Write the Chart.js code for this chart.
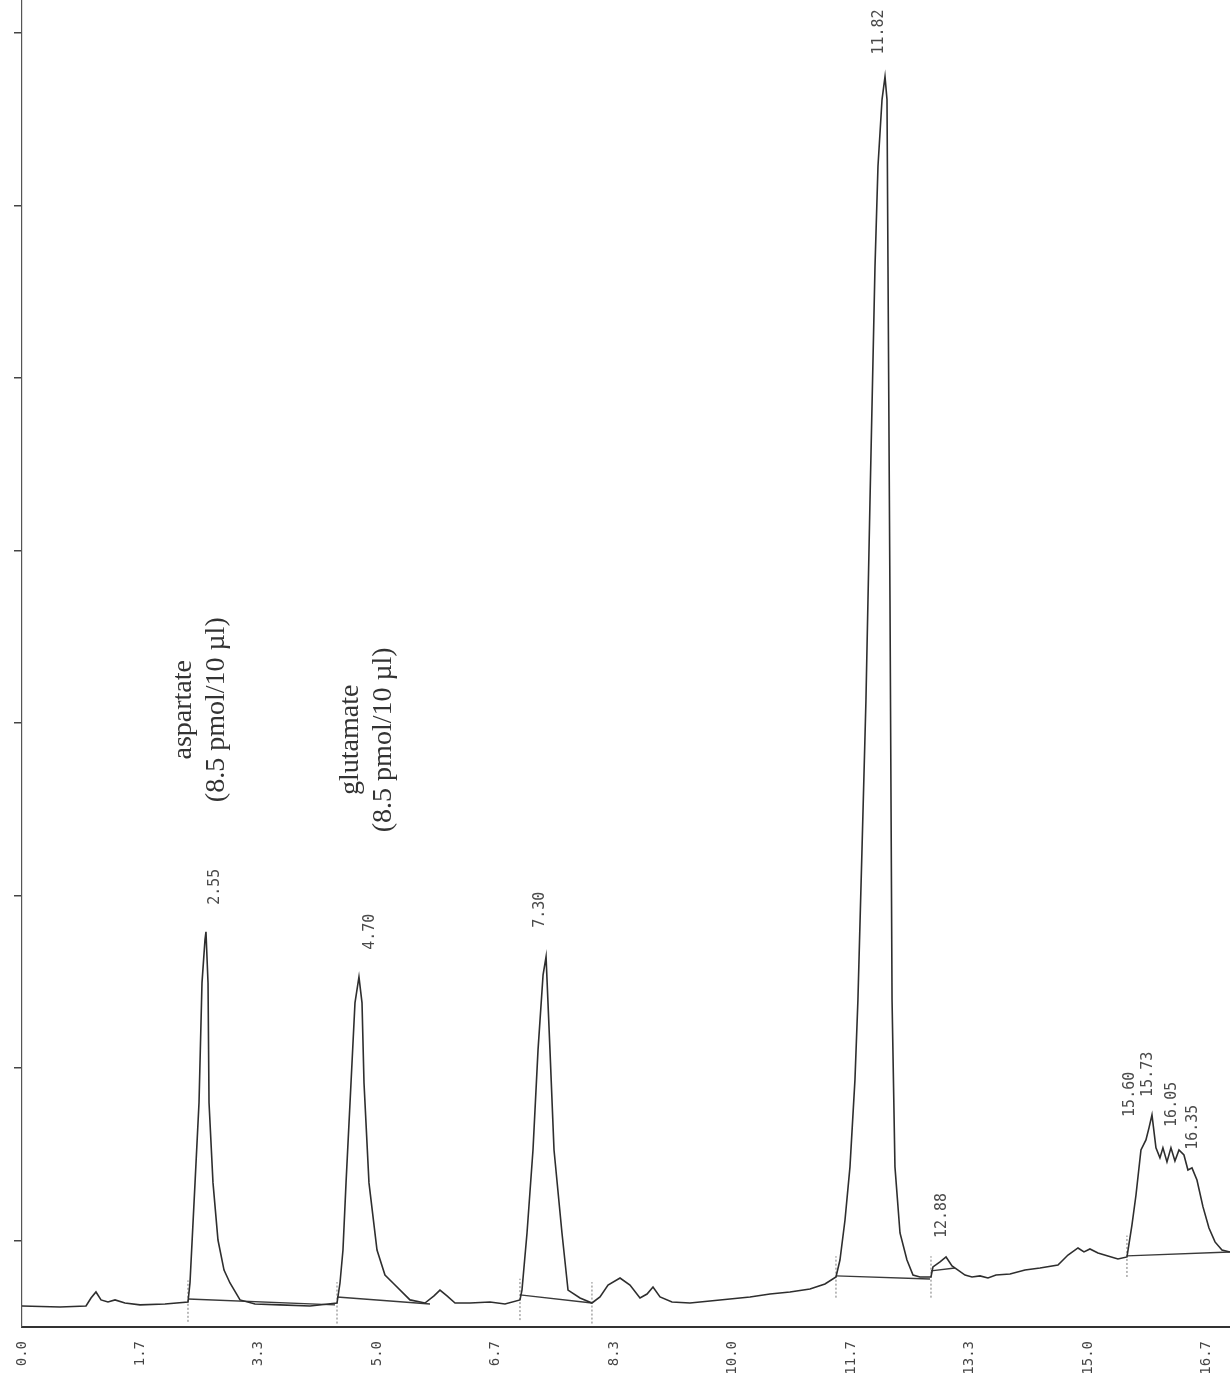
<!DOCTYPE html>
<html><head><meta charset="utf-8">
<script src="https://cdn.jsdelivr.net/npm/chart.js@4.4.1/dist/chart.umd.min.js"></script>
<style>html,body{margin:0;padding:0;background:#fff;}#wrap{width:1230px;height:1391px;position:relative;}</style>
</head><body><div id="wrap"><canvas id="c"></canvas></div>
<script>
// retention time (min) and detector signal (arbitrary units)
const traceTimes = [0.000,0.535,0.901,0.971,1.041,1.112,1.210,1.309,1.449,1.661,2.012,2.336,2.364,2.435,2.491,2.533,2.575,2.589,2.618,2.632,2.688,2.758,2.843,2.927,3.068,3.279,3.631,4.053,4.433,4.475,4.517,4.560,4.630,4.686,4.742,4.785,4.813,4.883,4.996,5.108,5.221,5.460,5.671,5.798,5.882,5.981,6.094,6.305,6.586,6.797,7.008,7.036,7.107,7.191,7.262,7.333,7.375,7.430,7.487,7.599,7.684,7.853,8.021,8.134,8.247,8.416,8.556,8.697,8.796,8.880,8.979,9.147,9.400,9.682,9.963,10.245,10.526,10.807,11.089,11.300,11.455,11.511,11.582,11.652,11.722,11.764,11.821,11.877,11.934,12.004,12.046,12.103,12.145,12.173,12.187,12.215,12.244,12.285,12.356,12.454,12.539,12.637,12.792,12.820,12.919,13.004,13.088,13.173,13.271,13.369,13.482,13.594,13.707,13.904,14.115,14.326,14.579,14.720,14.861,14.945,15.029,15.142,15.282,15.423,15.550,15.620,15.677,15.747,15.817,15.860,15.902,15.958,16.014,16.056,16.113,16.169,16.225,16.282,16.352,16.408,16.465,16.535,16.620,16.704,16.789,16.887,16.999];
const traceSignal = [0.122,0.116,0.122,0.168,0.203,0.157,0.145,0.157,0.139,0.128,0.133,0.145,0.255,0.835,1.299,1.994,2.243,2.290,1.994,1.299,0.835,0.504,0.330,0.255,0.157,0.133,0.128,0.122,0.139,0.255,0.446,0.835,1.414,1.878,2.029,1.878,1.414,0.835,0.446,0.301,0.255,0.157,0.139,0.180,0.214,0.180,0.139,0.139,0.145,0.133,0.157,0.214,0.545,1.026,1.606,2.041,2.145,1.606,1.026,0.545,0.214,0.168,0.139,0.174,0.243,0.284,0.243,0.168,0.191,0.232,0.174,0.145,0.139,0.151,0.162,0.174,0.191,0.203,0.220,0.249,0.290,0.388,0.620,0.928,1.432,1.896,2.765,3.635,4.794,6.145,6.725,7.113,7.246,7.113,6.145,4.214,1.896,0.928,0.545,0.388,0.301,0.290,0.290,0.348,0.377,0.406,0.354,0.330,0.301,0.290,0.296,0.284,0.301,0.307,0.330,0.342,0.359,0.417,0.458,0.435,0.452,0.429,0.412,0.394,0.406,0.591,0.765,1.026,1.084,1.154,1.229,1.038,0.980,1.038,0.957,1.038,0.962,1.026,0.997,0.910,0.922,0.852,0.696,0.574,0.493,0.446,0.435];

// integration baselines (start/end pairs)
const baselineStartTimes = [2.336,4.433,7.008,11.455,12.792,15.550];
const baselineStartSignal = [0.162,0.174,0.186,0.296,0.325,0.412];
const baselineEndTimes = [4.405,5.742,8.021,12.778,13.130,16.999];
const baselineEndSignal = [0.128,0.133,0.139,0.278,0.342,0.435];

// peak boundary markers
const markerTimes = [2.336,4.433,7.008,8.021,11.455,12.792,15.550];
const markerLevels = [0.15,0.14,0.16,0.14,0.29,0.29,0.41];

// peak retention labels
const peakLabels = ['2.55','4.70','7.30','11.82','12.88','15.60','15.73','16.05','16.35'];
const peakLabelTimes = [2.716,4.897,7.290,12.060,12.950,15.590,15.850,16.180,16.480];
const peakLabelHeights = [2.319,2.058,2.186,7.246,0.388,1.090,1.206,1.032,0.899];

// compound annotations
const compoundLines = [['aspartate','(8.5 pmol/10 \u00b5l)'],['glutamate','(8.5 pmol/10 \u00b5l)']];
const compoundTimes = [2.505,4.855];
const compoundHeights = [3.577,3.403];

// axes
const xTickValues = [0,1.667,3.333,5,6.667,8.333,10,11.667,13.333,15,16.667];
const xTickLabels = ['0.0','1.7','3.3','5.0','6.7','8.3','10.0','11.7','13.3','15.0','16.7'];
const yTickValues = [0.5,1.5,2.5,3.5,4.5,5.5,6.5,7.5];

const tracePts = traceTimes.map((t,i)=>({x:t,y:traceSignal[i]}));
const basePts = [];
baselineStartTimes.forEach((t,i)=>{
  basePts.push({x:t,y:baselineStartSignal[i]});
  basePts.push({x:baselineEndTimes[i],y:baselineEndSignal[i]});
  basePts.push({x:baselineEndTimes[i],y:null});
});
const markPts = [];
markerTimes.forEach((t,i)=>{
  markPts.push({x:t,y:markerLevels[i]-0.12});
  markPts.push({x:t,y:markerLevels[i]+0.12});
  markPts.push({x:t,y:null});
});

const textPlugin = {
  id:'peakText',
  afterDatasetsDraw(chart){
    const {ctx, scales:{x,y}} = chart;
    ctx.save();
    ctx.fillStyle = '#4a4a4a';
    ctx.font = '15px "DejaVu Sans Mono"';
    ctx.textAlign = 'left';
    ctx.textBaseline = 'middle';
    peakLabels.forEach((lab,i)=>{
      const px = x.getPixelForValue(peakLabelTimes[i]);
      const py = y.getPixelForValue(peakLabelHeights[i]) - 22;
      ctx.save();
      ctx.translate(px,py);
      ctx.rotate(-Math.PI/2);
      ctx.fillText(lab,0,0);
      ctx.restore();
    });
    ctx.fillStyle = '#333';
    ctx.font = '28px "Liberation Serif"';
    ctx.textAlign = 'center';
    compoundLines.forEach((lines,i)=>{
      const px = x.getPixelForValue(compoundTimes[i]);
      const py = y.getPixelForValue(compoundHeights[i]);
      ctx.save();
      ctx.translate(px,py);
      ctx.rotate(-Math.PI/2);
      ctx.fillText(lines[0],0,-16.5);
      ctx.fillText(lines[1],0,16.5);
      ctx.restore();
    });
    ctx.restore();
  }
};

new Chart(document.getElementById('c'),{
  type:'line',
  data:{datasets:[
    {data:tracePts,borderColor:'#2e2e2e',borderWidth:1.6,pointRadius:0,tension:0,fill:false},
    {data:basePts,borderColor:'#3a3a3a',borderWidth:1.4,pointRadius:0,tension:0,fill:false,spanGaps:false},
    {data:markPts,borderColor:'#777',borderWidth:1,borderDash:[2,2],pointRadius:0,tension:0,fill:false,spanGaps:false}
  ]},
  options:{
    responsive:true,maintainAspectRatio:false,animation:false,
    layout:{padding:0},
    plugins:{legend:{display:false},tooltip:{enabled:false}},
    scales:{
      x:{type:'linear',min:0,max:17,
        afterFit(s){s.height=64;s.paddingLeft=0;s.paddingRight=0;},
        afterBuildTicks(s){s.ticks=xTickValues.map(v=>({value:v}));},
        ticks:{autoSkip:false,minRotation:90,maxRotation:90,padding:14,color:'#444',
          font:{family:'DejaVu Sans Mono',size:14},
          callback:(v,i)=>xTickLabels[i]},
        grid:{display:true,drawOnChartArea:false,drawTicks:false},
        border:{display:true,color:'#333',width:2}},
      y:{type:'linear',min:0,max:7.69,
        afterFit(s){s.width=22;s.paddingTop=0;s.paddingBottom=0;},
        afterBuildTicks(s){s.ticks=yTickValues.map(v=>({value:v}));},
        ticks:{display:false},
        grid:{display:true,drawOnChartArea:false,drawTicks:true,tickLength:8,color:'#444',lineWidth:1.5},
        border:{display:true,color:'#555',width:1.2,dash:[10,3]}}
    }
  },
  plugins:[textPlugin]
});
</script></body></html>
